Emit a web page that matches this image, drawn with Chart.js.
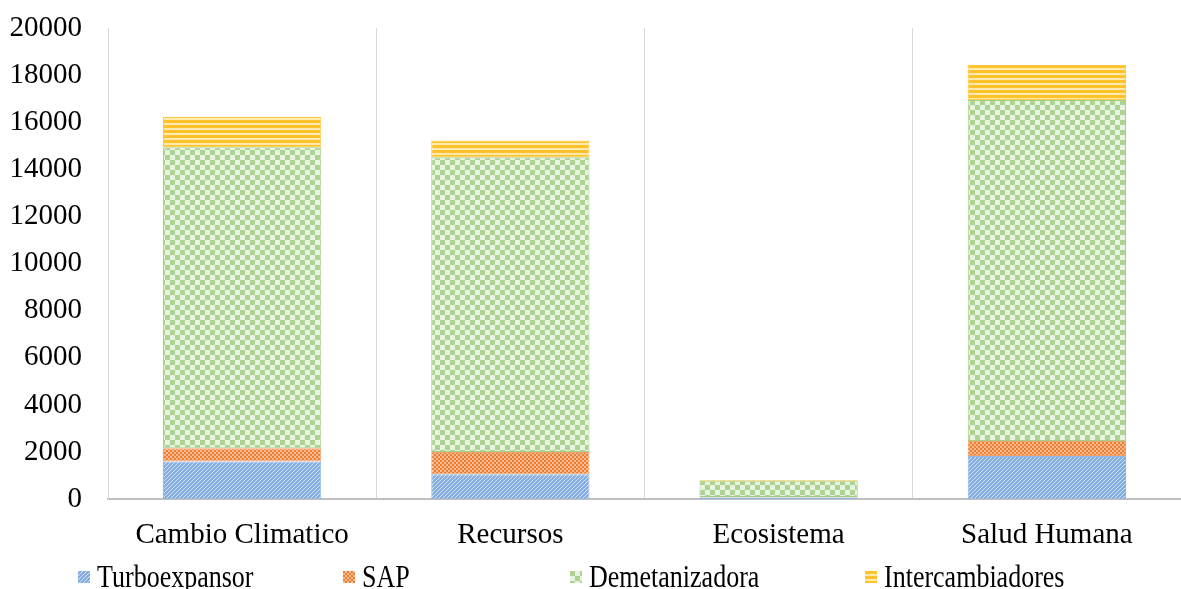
<!DOCTYPE html>
<html>
<head>
<meta charset="utf-8">
<script src="https://cdn.jsdelivr.net/npm/chart.js"></script>
<style>
  html, body { margin: 0; padding: 0; background: #fff; }
  #wrap { width: 1181px; height: 589px; position: relative; overflow: hidden; }
  #plot { position: absolute; left: 0; top: 0; width: 1181px; height: 572px; }
  #legend { position: absolute; left: 0; top: 558px; width: 1181px; height: 38px;
            font-family: 'Liberation Serif', 'Times New Roman', serif; font-size: 26px; color: #000; }
  .item { position: absolute; top: 0; height: 38px; display: flex; align-items: center; white-space: nowrap; }
  .item canvas { width: 12px; height: 12px; margin-right: 7px; }
  .item span { display: inline-block; transform: scaleY(1.2); line-height: 1; }
</style>
</head>
<body>
<div id="wrap">
  <div id="plot"><canvas id="chart-canvas"></canvas></div>
  <div id="legend"></div>
</div>
<script>
// categories and stacked series
const categories = ['Cambio Climatico', 'Recursos', 'Ecosistema', 'Salud Humana'];
const turboexpansor = [1600, 1060, 70, 1830];
const sap = [560, 940, 20, 640];
const demetanizadora = [12780, 12510, 690, 14470];
const intercambiadores = [1280, 720, 40, 1490];
const yTicks = [0, 2000, 4000, 6000, 8000, 10000, 12000, 14000, 16000, 18000, 20000];
const seriesNames = ['Turboexpansor', 'SAP', 'Demetanizadora', 'Intercambiadores'];

// build small canvas tiles used as pattern fills
function makeTile(size, drawFn){
    const c = document.createElement('canvas');
    c.width = size; c.height = size;
    const g = c.getContext('2d');
    g.fillStyle = '#ffffff';
    g.fillRect(0, 0, size, size);
    drawFn(g, size);
    return c;
}

// blue diagonal stripes
const blueTile = makeTile(4, function(g, s){
    g.fillStyle = '#86ade0';
    g.fillRect(0, 0, s, s);
    g.fillStyle = '#d3e2f5';
    for (let i = 0; i < s; i++){
        g.fillRect((s - i) % s, i, 1, 1);
    }
});

// orange small checkerboard
const orangeTile = makeTile(4, function(g, s){
    g.fillStyle = '#ed7d31';
    g.fillRect(0, 0, 2, 2);
    g.fillRect(2, 2, 2, 2);
    g.fillStyle = '#f7bb92';
    g.fillRect(2, 0, 2, 2);
    g.fillRect(0, 2, 2, 2);
});

// green bigger checkerboard
const greenTile = makeTile(10, function(g, s){
    g.fillStyle = '#add392';
    g.fillRect(0, 0, 5, 5);
    g.fillRect(5, 5, 5, 5);
    g.fillStyle = '#e8f3e0';
    g.fillRect(5, 0, 5, 5);
    g.fillRect(0, 5, 5, 5);
});

// yellow horizontal stripes
const yellowTile = makeTile(5, function(g, s){
    g.fillStyle = '#ffc22a';
    g.fillRect(0, 0, s, 3);
    g.fillStyle = '#ffeab0';
    g.fillRect(0, 3, s, 2);
});

const tiles = [blueTile, orangeTile, greenTile, yellowTile];
const edges = ['#94b8e4', '#f0a06a', '#a5cf88', '#ffc940'];
const seriesData = [turboexpansor, sap, demetanizadora, intercambiadores];
const ctx0 = document.createElement('canvas').getContext('2d');

const datasets = seriesNames.map(function(name, i){
    return {
        label: name,
        data: seriesData[i],
        backgroundColor: ctx0.createPattern(tiles[i], 'repeat'),
        borderColor: edges[i],
        borderWidth: 1,
        borderSkipped: false,
        barPercentage: 0.59,
        categoryPercentage: 1.0
    };
});

const serif = 'Liberation Serif, Times New Roman, serif';

new Chart('chart-canvas', {
    type: 'bar',
    data: { labels: categories, datasets: datasets },
    options: {
        responsive: true,
        maintainAspectRatio: false,
        animation: false,
        layout: { padding: { top: 28, left: 0, right: 0, bottom: 0 } },
        plugins: {
            legend: { display: false },
            tooltip: { enabled: false }
        },
        scales: {
            x: {
                stacked: true,
                grid: { display: true, color: '#d9d9d9', lineWidth: 1, drawTicks: false, offset: true },
                border: { display: true, color: '#bfbfbf', width: 2 },
                ticks: { color: '#000', padding: 19, font: { family: serif, size: 29 } }
            },
            y: {
                stacked: true,
                min: yTicks[0],
                max: yTicks[yTicks.length - 1],
                afterBuildTicks: function(axis){
                    axis.ticks = yTicks.map(function(v){ return { value: v }; });
                },
                afterFit: function(axis){
                    axis.width = 108;
                    axis.paddingTop = 0;
                    axis.paddingBottom = 0;
                },
                grid: { display: false, drawTicks: false },
                border: { display: true, color: '#d9d9d9', width: 1 },
                ticks: {
                    color: '#000',
                    padding: 26,
                    font: { family: serif, size: 29 },
                    callback: function(v){ return String(v); }
                }
            }
        }
    }
});

// html legend with pattern swatches
const legendLeft = [78, 343, 570, 865];
const legendDiv = document.getElementById('legend');
seriesNames.forEach(function(name, i){
    const item = document.createElement('div');
    item.className = 'item';
    item.style.left = legendLeft[i] + 'px';
    const sw = document.createElement('canvas');
    sw.width = 12; sw.height = 12;
    const g = sw.getContext('2d');
    g.fillStyle = g.createPattern(tiles[i], 'repeat');
    g.fillRect(0, 0, 12, 12);
    const label = document.createElement('span');
    label.textContent = name;
    item.appendChild(sw);
    item.appendChild(label);
    legendDiv.appendChild(item);
});
</script>
</body>
</html>
